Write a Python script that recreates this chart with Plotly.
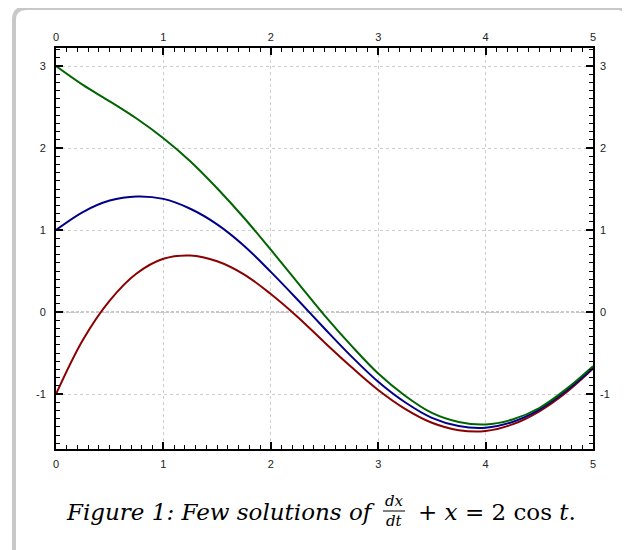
import plotly.graph_objects as go

# values (t step 0.25)
t = [0.0, 0.25, 0.5, 0.75, 1.0, 1.25, 1.5, 1.75, 2.0, 2.25, 2.5,
     2.75, 3.0, 3.25, 3.5, 3.75, 4.0, 4.25, 4.5, 4.75, 5.0]
x_start_3 = [3.00, 2.77, 2.57, 2.36, 2.12, 1.84, 1.51, 1.15, 0.76, 0.36, -0.04,
             -0.41, -0.75, -1.02, -1.23, -1.34, -1.37, -1.31, -1.17, -0.94, -0.66]
x_start_1 = [1.00, 1.22, 1.36, 1.41, 1.38, 1.26, 1.07, 0.81, 0.49, 0.15, -0.20,
             -0.54, -0.85, -1.10, -1.29, -1.39, -1.41, -1.34, -1.19, -0.96, -0.68]
x_start_m1 = [-1.00, -0.34, 0.14, 0.47, 0.65, 0.69, 0.62, 0.46, 0.22, -0.06, -0.37,
              -0.67, -0.95, -1.18, -1.35, -1.44, -1.45, -1.37, -1.21, -0.98, -0.69]

x_ticks = [0, 1, 2, 3, 4, 5]
y_ticks = [-1, 0, 1, 2, 3]
x_labels = ['0', '1', '2', '3', '4', '5']
y_labels = ['-1', '0', '1', '2', '3']
x_range = [0, 5]
y_range = [-1.67, 3.22]

# plot area in screen pixels (page body adds an 8px margin)
OFF = 8
L, R, T, B = 56, 593, 48, 449
W, H = R - L, B - T


def px(x):
    return (x - L) / W


def py(y):
    return (B - y) / H


fig = go.Figure()
for ys, col in [(x_start_m1, '#8b0000'), (x_start_1, '#00008b'), (x_start_3, '#006400')]:
    fig.add_trace(go.Scatter(x=t, y=ys, mode='lines', line=dict(color=col, width=2, shape='spline'),
                             showlegend=False, hoverinfo='skip'))
# dummy trace so the mirrored top/right axes exist
fig.add_trace(go.Scatter(x=[], y=[], xaxis='x2', yaxis='y2', showlegend=False))

tick_font = dict(family='Liberation Sans, Arial', size=11, color='#222')
common = dict(ticks='inside', ticklen=7, tickwidth=1.5, tickcolor='black', automargin=False,
              minor=dict(dtick=0.1, ticks='inside', ticklen=4, tickwidth=1.2, tickcolor='black', showgrid=False),
              tickfont=tick_font, zeroline=False)
grid = dict(showgrid=True, gridcolor='#cdcdcd', griddash='3px,3px', gridwidth=1)

fig.update_layout(
    width=630, height=550,
    margin=dict(l=L - OFF, r=630 - (R - OFF), t=T - OFF, b=550 - (B - OFF)),
    paper_bgcolor='white', plot_bgcolor='white',
    xaxis=dict(range=x_range, tickvals=x_ticks, ticktext=x_labels, showline=True, linecolor='black',
               linewidth=2, mirror=True, ticklabelstandoff=4, **grid, **common),
    yaxis=dict(range=y_range, tickvals=y_ticks, ticktext=y_labels, showline=True, linecolor='black',
               linewidth=2, mirror=True, ticklabelstandoff=6, **grid, **common),
    xaxis2=dict(range=x_range, tickvals=x_ticks, ticktext=x_labels, overlaying='x', side='top', anchor='y',
                showgrid=False, ticklabelstandoff=4, **common),
    yaxis2=dict(range=y_range, tickvals=y_ticks, ticktext=y_labels, overlaying='y', side='right', anchor='x',
                showgrid=False, ticklabelstandoff=6, **common),
)

# heavier dashed line at zero
fig.add_shape(type='line', xref='paper', yref='y', x0=0, x1=1, y0=0, y1=0,
              line=dict(color='#b4b4b4', width=1.6, dash='3px,2px'), layer='below')

# rounded frame around the figure
fl, fr, ft, fb, rad = 14, 628, 8, 570, 12
path = (f'M {px(fl)},{py(fb)} L {px(fl)},{py(ft + rad)} Q {px(fl)},{py(ft)} {px(fl + rad)},{py(ft)} '
        f'L {px(fr - rad)},{py(ft)} Q {px(fr)},{py(ft)} {px(fr)},{py(ft + rad)} L {px(fr)},{py(fb)}')
fig.add_shape(type='path', xref='paper', yref='paper', path=path,
              line=dict(color='#c8c8c8', width=4), layer='below')

# caption
serif = 'DejaVu Serif, serif'
cap_font = dict(family=serif, size=23, color='black')
cy = py(512)
fig.add_annotation(xref='paper', yref='paper', x=px(377), y=cy, xanchor='right', yanchor='middle',
                   text='<i>Figure 1: Few solutions of</i>', showarrow=False, font=cap_font)
fig.add_annotation(xref='paper', yref='paper', x=px(394), y=py(501), xanchor='center', yanchor='middle',
                   text='<i>dx</i>', showarrow=False, font=dict(family=serif, size=15, color='black'))
fig.add_annotation(xref='paper', yref='paper', x=px(394), y=py(521), xanchor='center', yanchor='middle',
                   text='<i>dt</i>', showarrow=False, font=dict(family=serif, size=15, color='black'))
fig.add_shape(type='line', xref='paper', yref='paper', x0=px(383), x1=px(405), y0=py(511), y1=py(511),
              line=dict(color='black', width=1))
fig.add_annotation(xref='paper', yref='paper', x=px(416), y=cy, xanchor='left', yanchor='middle',
                   text='+ <i>x</i> = 2 cos <i>t</i>.', showarrow=False, font=cap_font)

fig.write_html('out.html')
